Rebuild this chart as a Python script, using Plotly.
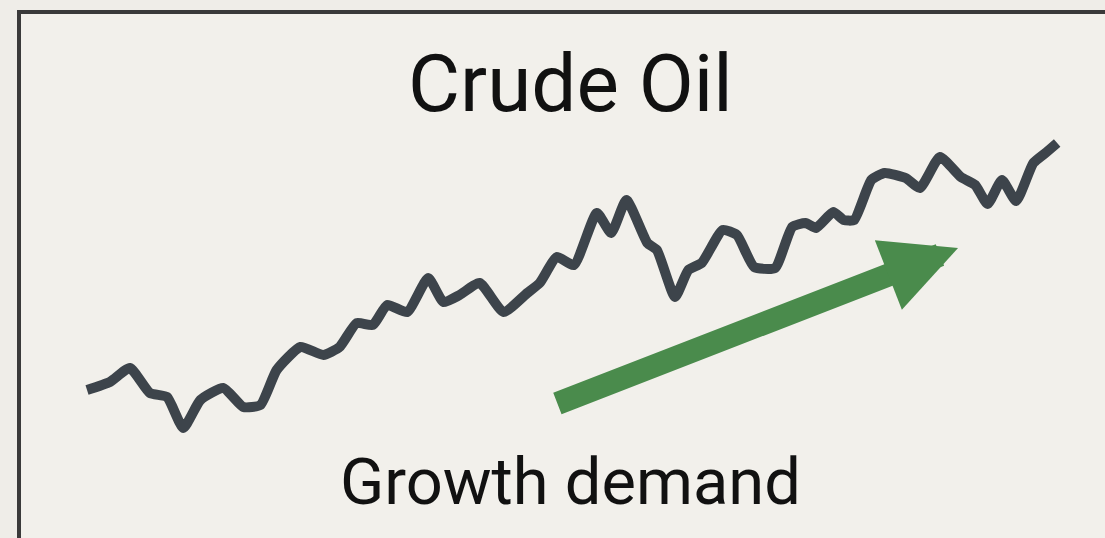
import plotly.graph_objects as go

# ---- data ----
days = [0.0, 2.4, 4.5, 6.6, 8.4, 10.1, 11.9, 14.3, 16.4, 18.2, 19.9, 22.4, 24.8, 26.5,
        28.3, 30.0, 31.5, 33.6, 35.8, 37.4, 39.1, 41.2, 43.7, 46.2, 47.5, 49.3, 51.1,
        53.5, 55.0, 56.6, 58.8, 59.8, 61.7, 63.1, 64.5, 66.7, 68.2, 70.0, 72.2, 74.0,
        75.4, 76.5, 78.3, 79.4, 80.5, 82.3, 83.7, 85.9, 87.4, 89.5, 91.7, 93.2, 94.5,
        96.0, 97.5, 99.3, 100.7, 101.8]
price = [30.0, 32.0, 35.5, 29.25, 28.25, 20.5, 27.5, 30.5, 25.75, 26.25, 35.0, 40.75,
         38.75, 40.75, 46.75, 46.25, 51.25, 49.5, 58.0, 52.0, 53.75, 56.75, 49.5, 54.25,
         56.75, 63.25, 61.25, 74.25, 69.25, 77.5, 66.75, 65.0, 53.25, 60.0, 61.75, 70.0,
         68.75, 60.75, 60.5, 70.75, 71.75, 70.5, 74.5, 72.5, 72.5, 82.5, 84.25, 83.0,
         80.5, 88.25, 83.25, 81.25, 76.5, 82.5, 77.25, 86.75, 89.5, 91.75]

trend_start = [49.2, 26.5]   # (day, price) tail of the trend arrow
trend_end = [91.4, 65.5]     # (day, price) tip of the trend arrow

title_text = "Crude Oil"
label_text = "Growth demand"

# ---- figure ----
fig = go.Figure()
fig.add_trace(go.Scatter(
    x=days, y=price, mode="lines",
    line=dict(color="#3d444b", width=10, shape="spline", smoothing=0.5),
    hoverinfo="skip", showlegend=False,
))

fig.add_annotation(
    x=trend_end[0], y=trend_end[1], ax=trend_start[0], ay=trend_start[1],
    xref="x", yref="y", axref="x", ayref="y",
    text="", showarrow=True, arrowhead=2, arrowsize=0.65, arrowwidth=23,
    arrowcolor="#4a8b4c",
)

fig.add_annotation(
    x=0.5167, y=0.844, xref="paper", yref="paper", text=title_text, showarrow=False,
    xanchor="center", yanchor="middle",
    font=dict(family="Roboto, Liberation Sans", size=80, color="#111111"),
)
fig.add_annotation(
    x=0.5167, y=0.104, xref="paper", yref="paper", text=label_text, showarrow=False,
    xanchor="center", yanchor="middle",
    font=dict(family="Roboto, Liberation Sans", size=65, color="#111111"),
)

# frame
fig.add_shape(type="rect", xref="paper", yref="paper",
              x0=19 / 1105, x1=1.03, y0=-0.03, y1=1 - 12 / 538,
              line=dict(color="#3a3a3a", width=4), fillcolor="#f2f0eb", layer="below")

fig.update_layout(
    width=1105, height=538,
    margin=dict(l=0, r=0, t=0, b=0),
    paper_bgcolor="#efede8", plot_bgcolor="rgba(0,0,0,0)",
    xaxis=dict(range=[-9.13, 106.82], visible=False, fixedrange=True),
    yaxis=dict(range=[-7.0, 127.5], visible=False, fixedrange=True),
    showlegend=False,
)

fig.write_html(
    "out.html",
    config={"displayModeBar": False},
    post_script="document.body.style.margin='0';document.body.style.background='#efede8';",
)
